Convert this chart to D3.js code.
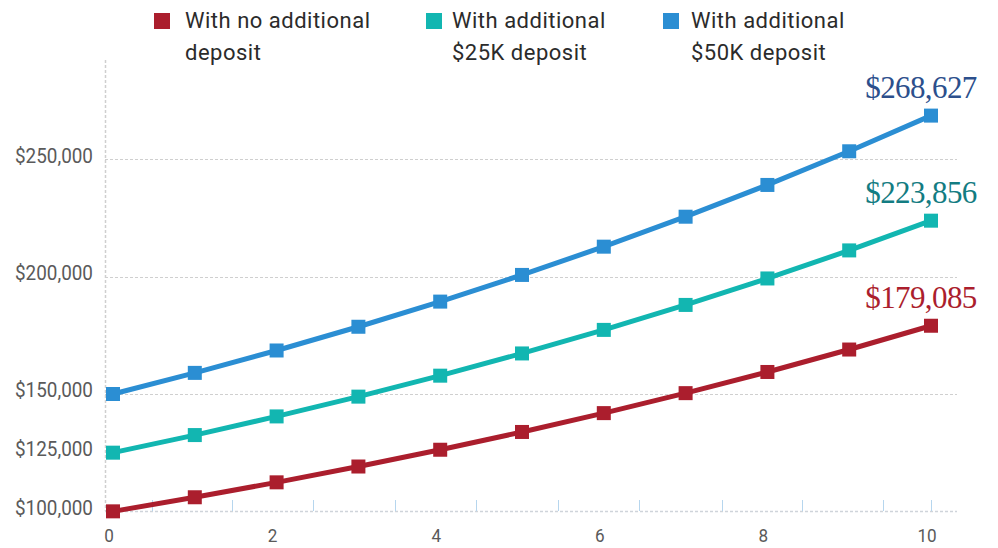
<!DOCTYPE html>
<html>
<head>
<meta charset="utf-8">
<script src="https://cdn.jsdelivr.net/npm/d3@7/dist/d3.min.js"></script>
<style>
  html, body { margin: 0; padding: 0; background: #fff; }
  svg { display: block; }
</style>
</head>
<body>
<svg id="chart" width="998" height="548"></svg>
<script>
// Years since the deposit
const years = [0, 1, 2, 3, 4, 5, 6, 7, 8, 9, 10];

// Balance per year for each deposit scenario
const noDeposit = [100000, 106000, 112360, 119102, 126248, 133823, 141852, 150363, 159385, 168948, 179085];
const deposit25K = [125000, 132500, 140450, 148877, 157809, 167278, 177315, 187954, 199231, 211185, 223856];
const deposit50K = [150000, 159000, 168540, 178652, 189372, 200734, 212778, 225545, 239078, 253422, 268627];

const seriesNames = ["With no additional deposit", "With additional $25K deposit", "With additional $50K deposit"];
const legendLines = [["With no additional", "deposit"], ["With additional", "$25K deposit"], ["With additional", "$50K deposit"]];
const endLabels = ["$179,085", "$223,856", "$268,627"];

const yTicks = [100000, 125000, 150000, 200000, 250000];
const gridTicks = [150000, 200000, 250000];
const xTicks = [0, 2, 4, 6, 8, 10];
const xMinorTicks = [0.48, 1.45, 2.44, 3.45, 4.44, 5.44, 6.43, 7.44, 8.42, 9.41, 10];

const colors = ["#ab1e2d", "#12b6b1", "#2b8ed3"];
const labelColors = ["#ab1e2d", "#137c82", "#2c4f8c"];

const series = [noDeposit, deposit25K, deposit50K].map((vals, i) => ({
  name: seriesNames[i],
  values: years.map((t, j) => ({ t, v: vals[j] }))
}));

const svg = d3.select("#chart");

const x = d3.scaleLinear().domain([0, 10]).range([113, 931]);
const y = d3.scaleLinear().domain([150000, 268627]).range([394, 115.6]);

const axisLeft = 105, gridRight = 957, topY = 60, baseY = 511;
const tickFont = "Roboto, 'DejaVu Sans Condensed', sans-serif";

// Horizontal dashed gridlines
svg.append("g").selectAll("line").data(gridTicks).join("line")
  .attr("x1", axisLeft).attr("x2", gridRight)
  .attr("y1", d => Math.round(y(d)) + 0.5).attr("y2", d => Math.round(y(d)) + 0.5)
  .attr("stroke", "#cfcfcf").attr("stroke-width", 1.2).attr("stroke-dasharray", "3,2");

// Baseline
svg.append("line")
  .attr("x1", axisLeft).attr("x2", gridRight)
  .attr("y1", baseY + 0.5).attr("y2", baseY + 0.5)
  .attr("stroke", "#cfd4da").attr("stroke-width", 1.5).attr("stroke-dasharray", "3,2");

// Vertical axis line
svg.append("line")
  .attr("x1", axisLeft + 0.5).attr("x2", axisLeft + 0.5)
  .attr("y1", topY).attr("y2", baseY)
  .attr("stroke", "#cfcfcf").attr("stroke-width", 1.5).attr("stroke-dasharray", "3,2");

// Minor x ticks
svg.append("g").selectAll("line").data(xMinorTicks).join("line")
  .attr("x1", d => Math.round(x(d)) + 0.5).attr("x2", d => Math.round(x(d)) + 0.5)
  .attr("y1", baseY - 11).attr("y2", baseY)
  .attr("stroke", "#b6d6ee").attr("stroke-width", 1);

// Y tick labels (narrowed horizontally to a condensed look)
svg.append("g").selectAll("text").data(yTicks).join("text")
  .attr("transform", d => `translate(93,${y(d) - 4}) scale(0.9,1)`)
  .attr("dy", "0.35em")
  .attr("text-anchor", "end")
  .attr("font-family", tickFont)
  .attr("font-size", 21)
  .attr("fill", "#5a5a5a")
  .text(d => "$" + d3.format(",")(d));

// X tick labels
svg.append("g").selectAll("text").data(xTicks).join("text")
  .attr("transform", d => `translate(${x(d) - 4},542) scale(0.9,1)`)
  .attr("text-anchor", "middle")
  .attr("font-family", tickFont)
  .attr("font-size", 19)
  .attr("fill", "#5a5a5a")
  .text(d => d);

// Lines
const line = d3.line().x(d => x(d.t)).y(d => y(d.v));
const marker = 14;

series.forEach((s, i) => {
  const g = svg.append("g");
  g.append("path")
    .datum(s.values)
    .attr("d", line)
    .attr("fill", "none")
    .attr("stroke", colors[i])
    .attr("stroke-width", 5)
    .attr("stroke-linejoin", "round");
  g.selectAll("rect").data(s.values).join("rect")
    .attr("x", d => x(d.t) - marker / 2)
    .attr("y", d => y(d.v) - marker / 2)
    .attr("width", marker).attr("height", marker)
    .attr("fill", colors[i]);

  const last = s.values[s.values.length - 1];
  g.append("text")
    .attr("x", x(last.t) - 10)
    .attr("y", y(last.v) - 18)
    .attr("text-anchor", "middle")
    .attr("font-family", "'Liberation Serif', 'DejaVu Serif', serif")
    .attr("font-size", 31)
    .attr("letter-spacing", -0.6)
    .attr("fill", labelColors[i])
    .text(endLabels[i]);
});

// Legend
const legendX = [154, 426, 663];
const legendTextX = [185, 452, 691];
const legend = svg.append("g");
legendLines.forEach((lines, i) => {
  legend.append("rect")
    .attr("x", legendX[i]).attr("y", 13)
    .attr("width", 16).attr("height", 16)
    .attr("fill", colors[i]);
  const t = legend.append("text")
    .attr("font-family", "Roboto, 'Noto Sans', sans-serif")
    .attr("font-size", 22)
    .attr("letter-spacing", 0.5)
    .attr("fill", "#2b2b2b");
  lines.forEach((ln, k) => {
    t.append("tspan")
      .attr("x", legendTextX[i])
      .attr("y", 28 + k * 32)
      .text(ln);
  });
});
</script>
</body>
</html>
